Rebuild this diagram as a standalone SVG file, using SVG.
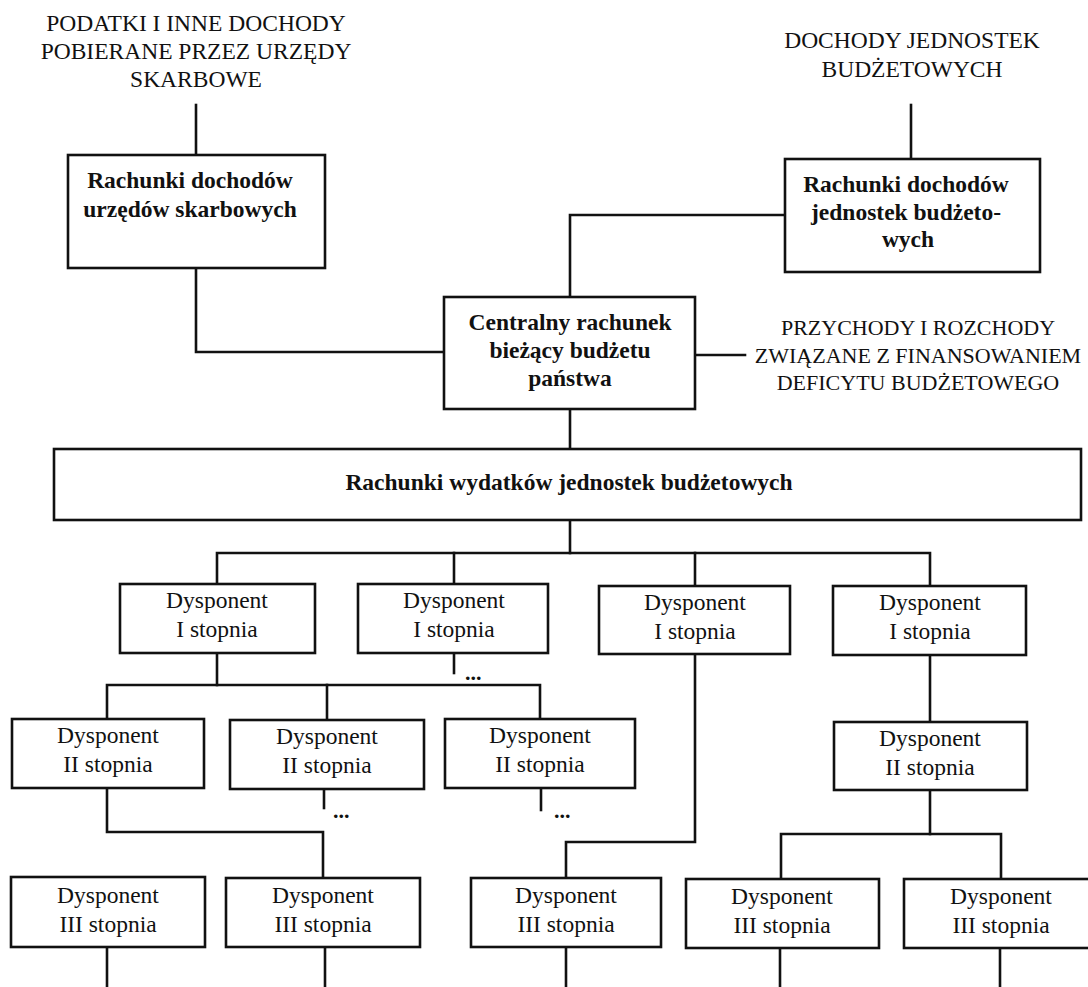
<svg xmlns="http://www.w3.org/2000/svg" width="1088" height="987" viewBox="0 0 1088 987">
  <style>
    .box { fill: #ffffff; stroke: #111111; stroke-width: 2.6; }
    .wire { fill: none; stroke: #111111; stroke-width: 2.6; stroke-linecap: square; }
    .t { font-family: "Liberation Serif", "Times New Roman", serif; font-size: 23.5px; fill: #111111; text-anchor: middle; }
    .b { font-weight: bold; }
    .cap { font-size: 22px; }
    .dots { font-family: "Liberation Serif", serif; font-size: 22px; font-weight: bold; fill: #111111; }
  </style>
  <rect width="1088" height="987" fill="#ffffff"/>

  <!-- source labels -->
  <g id="src-podatki">
    <text class="t" x="196" y="31">PODATKI I INNE DOCHODY</text>
    <text class="t" x="196" y="59">POBIERANE PRZEZ URZĘDY</text>
    <text class="t" x="196" y="87">SKARBOWE</text>
  </g>
  <g id="src-dochody-jb">
    <text class="t" x="912" y="48">DOCHODY JEDNOSTEK</text>
    <text class="t" x="912" y="77">BUDŻETOWYCH</text>
  </g>
  <g id="src-deficyt">
    <text class="t cap" x="918" y="335">PRZYCHODY I ROZCHODY</text>
    <text class="t cap" x="918" y="363">ZWIĄZANE Z FINANSOWANIEM</text>
    <text class="t cap" x="918" y="390">DEFICYTU BUDŻETOWEGO</text>
  </g>

  <!-- connectors -->
  <g id="connectors">
    <path class="wire" d="M196 105 V155"/>
    <path class="wire" d="M196 268 V352 H444"/>
    <path class="wire" d="M911 105 V159"/>
    <path class="wire" d="M785 215 H570 V297"/>
    <path class="wire" d="M695 355 H745"/>
    <path class="wire" d="M570 409 V449"/>
    <path class="wire" d="M570 520 V553"/>
    <path class="wire" d="M217 584 V553 H930 V585"/>
    <path class="wire" d="M454 553 V584"/>
    <path class="wire" d="M695 553 V586"/>
    <!-- level I -> II -->
    <path class="wire" d="M217 653 V685"/>
    <path class="wire" d="M107 719 V685 H540 V719"/>
    <path class="wire" d="M327 685 V719"/>
    <path class="wire" d="M454 653 V673"/>
    <path class="wire" d="M695 654 V842 H566 V878"/>
    <path class="wire" d="M930 655 V722"/>
    <!-- level II -> III -->
    <path class="wire" d="M107 788 V832 H323 V878"/>
    <path class="wire" d="M324 789 V808"/>
    <path class="wire" d="M541 788 V810"/>
    <path class="wire" d="M930 790 V834"/>
    <path class="wire" d="M781 879 V834 H1001 V879"/>
    <!-- below level III -->
    <path class="wire" d="M107 947 V990"/>
    <path class="wire" d="M325 947 V990"/>
    <path class="wire" d="M566 947 V990"/>
    <path class="wire" d="M780 948 V990"/>
    <path class="wire" d="M1000 948 V990"/>
  </g>
  <g id="ellipses">
    <text class="dots" x="465" y="680">...</text>
    <text class="dots" x="333" y="818">...</text>
    <text class="dots" x="554" y="818">...</text>
  </g>

  <!-- revenue accounts -->
  <g id="rach-us">
    <rect class="box" x="68" y="155" width="257" height="113"/>
    <text class="t b" x="190" y="188">Rachunki dochodów</text>
    <text class="t b" x="190" y="217">urzędów skarbowych</text>
  </g>
  <g id="rach-jb">
    <rect class="box" x="785" y="159" width="255" height="113"/>
    <text class="t b" x="906" y="192">Rachunki dochodów</text>
    <text class="t b" x="906" y="220">jednostek budżeto-</text>
    <text class="t b" x="908" y="247">wych</text>
  </g>
  <g id="crb">
    <rect class="box" x="444" y="297" width="251" height="112"/>
    <text class="t b" x="570" y="330">Centralny rachunek</text>
    <text class="t b" x="570" y="358">bieżący budżetu</text>
    <text class="t b" x="570" y="386">państwa</text>
  </g>
  <g id="rach-wydatkow">
    <rect class="box" x="54" y="449" width="1027" height="71"/>
    <text class="t b" x="569" y="490">Rachunki wydatków jednostek budżetowych</text>
  </g>

  <!-- level I -->
  <g id="d1-a"><rect class="box" x="120" y="584" width="195" height="69"/>
    <text class="t" x="217" y="608">Dysponent</text><text class="t" x="217" y="637">I stopnia</text></g>
  <g id="d1-b"><rect class="box" x="358" y="584" width="190" height="69"/>
    <text class="t" x="454" y="608">Dysponent</text><text class="t" x="454" y="637">I stopnia</text></g>
  <g id="d1-c"><rect class="box" x="599" y="586" width="191" height="68"/>
    <text class="t" x="695" y="610">Dysponent</text><text class="t" x="695" y="639">I stopnia</text></g>
  <g id="d1-d"><rect class="box" x="833" y="586" width="193" height="69"/>
    <text class="t" x="930" y="610">Dysponent</text><text class="t" x="930" y="639">I stopnia</text></g>

  <!-- level II -->
  <g id="d2-a"><rect class="box" x="12" y="719" width="192" height="69"/>
    <text class="t" x="108" y="743">Dysponent</text><text class="t" x="108" y="772">II stopnia</text></g>
  <g id="d2-b"><rect class="box" x="230" y="720" width="194" height="69"/>
    <text class="t" x="327" y="744">Dysponent</text><text class="t" x="327" y="773">II stopnia</text></g>
  <g id="d2-c"><rect class="box" x="445" y="719" width="190" height="69"/>
    <text class="t" x="540" y="743">Dysponent</text><text class="t" x="540" y="772">II stopnia</text></g>
  <g id="d2-d"><rect class="box" x="834" y="722" width="193" height="68"/>
    <text class="t" x="930" y="746">Dysponent</text><text class="t" x="930" y="775">II stopnia</text></g>

  <!-- level III -->
  <g id="d3-a"><rect class="box" x="11" y="877" width="194" height="70"/>
    <text class="t" x="108" y="903">Dysponent</text><text class="t" x="108" y="932">III stopnia</text></g>
  <g id="d3-b"><rect class="box" x="226" y="878" width="194" height="69"/>
    <text class="t" x="323" y="903">Dysponent</text><text class="t" x="323" y="932">III stopnia</text></g>
  <g id="d3-c"><rect class="box" x="471" y="878" width="190" height="69"/>
    <text class="t" x="566" y="903">Dysponent</text><text class="t" x="566" y="932">III stopnia</text></g>
  <g id="d3-d"><rect class="box" x="686" y="879" width="193" height="69"/>
    <text class="t" x="782" y="904">Dysponent</text><text class="t" x="782" y="933">III stopnia</text></g>
  <g id="d3-e"><rect class="box" x="904" y="879" width="194" height="69"/>
    <text class="t" x="1001" y="904">Dysponent</text><text class="t" x="1001" y="933">III stopnia</text></g>
</svg>
